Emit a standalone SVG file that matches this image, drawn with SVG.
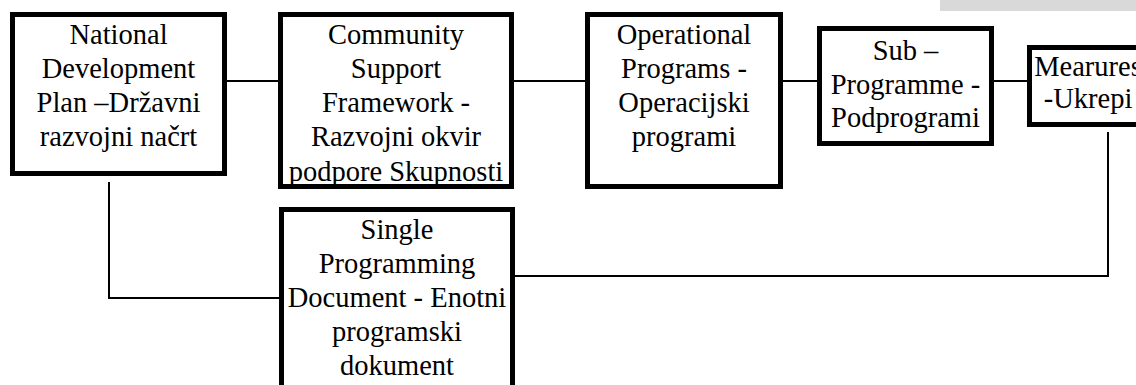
<svg xmlns="http://www.w3.org/2000/svg" width="1136" height="385" viewBox="0 0 1136 385">
<style>
.bg{fill:#ffffff;stroke:none}
.frame{fill:none;stroke:#000;stroke-width:5}
.t{font-family:"Liberation Serif","Times New Roman",serif;font-size:28.5px;fill:#000;text-anchor:middle}
.c{fill:none;stroke:#000;stroke-width:2}
</style>
<rect x="0" y="0" width="1136" height="385" fill="#fff"/>
<rect x="940" y="0" width="196" height="11" fill="#d9d9d9"/>
<g id="connectors">
<line class="c" x1="227" y1="81" x2="278" y2="81"/>
<line class="c" x1="514" y1="81" x2="585" y2="81"/>
<line class="c" x1="783" y1="81" x2="817" y2="81"/>
<line class="c" x1="994" y1="81" x2="1027" y2="81"/>
<polyline class="c" points="109,182 109,298 279,298"/>
<polyline class="c" points="1108,132 1108,276 515,276"/>
</g>
<g id="node-ndp">
<rect class="bg" x="12.5" y="14.5" width="212" height="159"/>
<text class="t" x="118.5" y="44">National</text>
<text class="t" x="118.5" y="78">Development</text>
<text class="t" x="118.5" y="112">Plan –Državni</text>
<text class="t" x="118.5" y="146">razvojni načrt</text>
<rect class="frame" x="12.5" y="14.5" width="212" height="159"/>
</g>
<g id="node-csf">
<rect class="bg" x="280.5" y="14.5" width="231" height="172"/>
<text class="t" x="396" y="44">Community</text>
<text class="t" x="396" y="78">Support</text>
<text class="t" x="396" y="112">Framework -</text>
<text class="t" x="396" y="146">Razvojni okvir</text>
<text class="t" x="396" y="181">podpore Skupnosti</text>
<rect class="frame" x="280.5" y="14.5" width="231" height="172"/>
</g>
<g id="node-op">
<rect class="bg" x="587.5" y="14.5" width="193" height="172"/>
<text class="t" x="684" y="44">Operational</text>
<text class="t" x="684" y="78">Programs -</text>
<text class="t" x="684" y="112">Operacijski</text>
<text class="t" x="684" y="146">programi</text>
<rect class="frame" x="587.5" y="14.5" width="193" height="172"/>
</g>
<g id="node-sub">
<rect class="bg" x="819.5" y="28.5" width="172" height="115"/>
<text class="t" x="905.5" y="60">Sub –</text>
<text class="t" x="905.5" y="94">Programme -</text>
<text class="t" x="905.5" y="127">Podprogrami</text>
<rect class="frame" x="819.5" y="28.5" width="172" height="115"/>
</g>
<g id="node-measures">
<rect class="bg" x="1029.5" y="47.5" width="118" height="77"/>
<text class="t" x="1088" y="76">Mearures</text>
<text class="t" x="1088" y="108">-Ukrepi</text>
<rect class="frame" x="1029.5" y="47.5" width="118" height="77"/>
</g>
<g id="node-spd">
<rect class="bg" x="281.5" y="209.5" width="231" height="190"/>
<text class="t" x="397" y="239">Single</text>
<text class="t" x="397" y="273">Programming</text>
<text class="t" x="397" y="307">Document - Enotni</text>
<text class="t" x="397" y="341">programski</text>
<text class="t" x="397" y="375">dokument</text>
<rect class="frame" x="281.5" y="209.5" width="231" height="190"/>
</g>
</svg>
